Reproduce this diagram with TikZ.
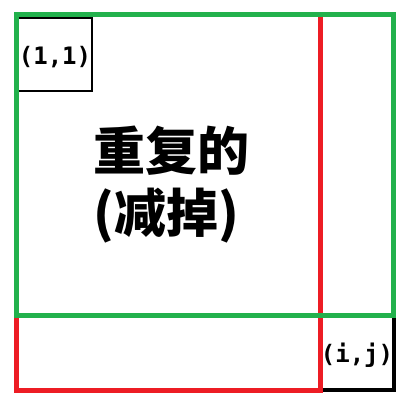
\documentclass[tikz,border=0pt]{standalone}
\usepackage{fontspec}
\newfontfamily\cjk{Noto Sans CJK SC}
\newfontfamily\mono{DejaVu Sans Mono}
\definecolor{paintred}{RGB}{237,28,36}
\definecolor{paintgreen}{RGB}{34,177,76}
\tikzstyle{region}=[line width=5pt, line join=miter]
\tikzstyle{idx}=[inner sep=0pt, font=\mono\bfseries\fontsize{24}{24}\selectfont]
\newcommand{\idx}{\node[idx]}

\begin{document}
\begin{tikzpicture}[x=1pt, y=-1pt]
\useasboundingbox (0,0) rectangle (409,417);
% cells
\draw[line width=3.5pt] (320,315) rectangle (394,390);
\draw[line width=2pt] (18,18) rectangle (92,91);
% regions
\draw[region, paintred] (16,15) rectangle (320,390);
\draw[region, paintgreen] (16,15) rectangle (393,315);
\idx (first) at (55,57) {(1,1)};
\idx (last) at (357,355) {(i,j)};
\node[anchor=west, align=left, inner sep=0pt, font=\cjk\bfseries\fontsize{52}{62}\selectfont] (dup) at (93,185) {重复的\\(减掉)};
\end{tikzpicture}
\end{document}
